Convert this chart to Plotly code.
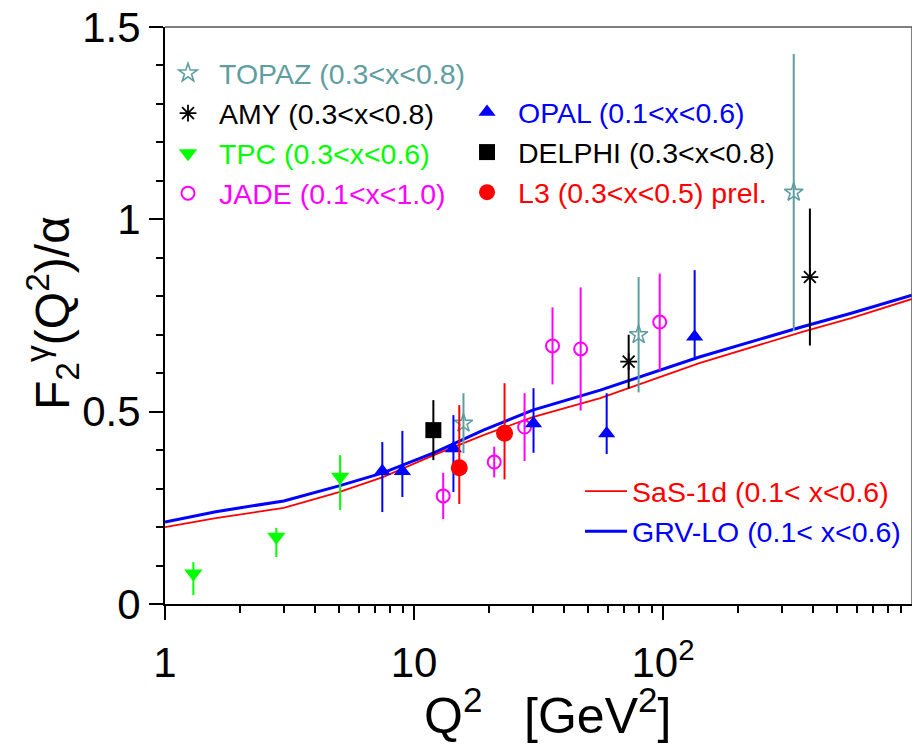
import plotly.graph_objects as go

# ---------------- data ----------------
topaz_q2 = [15.8, 79.8, 335]
topaz_f2 = [0.47, 0.70, 1.07]
topaz_err = [0.078, 0.15, 0.36]

amy_q2 = [72.8, 389]
amy_f2 = [0.63, 0.85]
amy_err = [0.07, 0.178]

tpc_q2 = [1.30, 2.80, 5.05]
tpc_f2 = [0.079, 0.175, 0.331]
tpc_err_up = [0.030, 0.023, 0.056]
tpc_err_dn = [0.056, 0.053, 0.087]

jade_q2 = [13.1, 21.0, 27.8, 36.0, 46.7, 97]
jade_f2 = [0.281, 0.369, 0.46, 0.671, 0.663, 0.733]
jade_err = [0.06, 0.04, 0.088, 0.10, 0.16, 0.126]

opal_q2 = [7.46, 8.98, 14.4, 30.2, 59.4, 134]
opal_f2 = [0.345, 0.345, 0.404, 0.469, 0.443, 0.695]
opal_err_up = [0.076, 0.105, 0.087, 0.092, 0.105, 0.173]
opal_err_dn = [0.106, 0.067, 0.113, 0.076, 0.053, 0.061]

delphi_q2 = [11.96]
delphi_f2 = [0.452]
delphi_err = [0.078]

l3_q2 = [15.2, 23.1]
l3_f2 = [0.354, 0.444]
l3_err_up = [0.163, 0.13]
l3_err_dn = [0.094, 0.12]

curve_q2 = [1, 1.6, 3, 5, 7.5, 12, 19, 30, 56, 140, 360, 570, 1000]
grv_lo = [0.213, 0.240, 0.268, 0.307, 0.341, 0.393, 0.452, 0.504, 0.556, 0.642, 0.720, 0.756, 0.803]
sas_1d = [0.200, 0.223, 0.250, 0.291, 0.330, 0.387, 0.439, 0.486, 0.535, 0.626, 0.707, 0.743, 0.793]

x_tickvals = [1, 10, 100]
x_ticktext = ["1", "10", "10<sup>2</sup>"]
y_tickvals = [0, 0.5, 1, 1.5]
y_ticktext = ["0", "0.5", "1", "1.5"]

# ---------------- styling ----------------
FONT = "Liberation Sans, Arial, Helvetica, sans-serif"
TEAL = "#5f9ea0"
GREEN = "#00ff00"
MAGENTA = "#ff00ff"
BLUE = "#0000ff"
RED = "#ff0000"
BLACK = "#000000"


def lbl(text, color):
    return '<span style="color:%s">%s</span>' % (color, text.replace("<", "&lt;"))


def pts(q2, f2, up, dn, color, symbol, size, name, legend, lw=0):
    return go.Scatter(
        x=q2, y=f2, mode="markers", name=lbl(name, color), legend=legend,
        marker=dict(symbol=symbol, size=size, color=color,
                    line=dict(color=color, width=lw)),
        error_y=dict(type="data", array=up, arrayminus=dn, symmetric=False,
                     color=color, thickness=2, width=0),
    )


fig = go.Figure()

# theory curves
fig.add_trace(go.Scatter(x=curve_q2, y=sas_1d, mode="lines", name=lbl("SaS-1d (0.1< x<0.6)", RED),
                         legend="legend3", line=dict(color=RED, width=1.8)))
fig.add_trace(go.Scatter(x=curve_q2, y=grv_lo, mode="lines", name=lbl("GRV-LO (0.1< x<0.6)", BLUE),
                         legend="legend3", line=dict(color=BLUE, width=3)))

# legend 1 column
fig.add_trace(pts(topaz_q2, topaz_f2, topaz_err, topaz_err, TEAL, "star-open", 14,
                  "TOPAZ (0.3<x<0.8)", "legend", lw=1.6))
fig.add_trace(pts(amy_q2, amy_f2, amy_err, amy_err, BLACK, "asterisk-open", 14,
                  "AMY (0.3<x<0.8)", "legend", lw=1.8))
fig.add_trace(pts(tpc_q2, tpc_f2, tpc_err_up, tpc_err_dn, GREEN, "triangle-down", 16,
                  "TPC (0.3<x<0.6)", "legend"))
fig.add_trace(pts(jade_q2, jade_f2, jade_err, jade_err, MAGENTA, "circle-open", 13,
                  "JADE (0.1<x<1.0)", "legend", lw=2))
# legend 2 column
fig.add_trace(pts(opal_q2, opal_f2, opal_err_up, opal_err_dn, BLUE, "triangle-up", 15,
                  "OPAL (0.1<x<0.6)", "legend2"))
fig.add_trace(pts(delphi_q2, delphi_f2, delphi_err, delphi_err, BLACK, "square", 16,
                  "DELPHI (0.3<x<0.8)", "legend2"))
fig.add_trace(pts(l3_q2, l3_f2, l3_err_up, l3_err_dn, RED, "circle", 17,
                  "L3 (0.3<x<0.5) prel.", "legend2"))

minor_x = [m * d for d in (1, 10, 100) for m in range(2, 10)]
minor_y = [i / 10 for i in range(0, 16) if i % 5 != 0]

fig.update_xaxes(
    type="log", range=[0, 3.0], showgrid=False, zeroline=False, automargin=False,
    showline=True, linecolor=BLACK, linewidth=2,
    ticks="outside", ticklen=14, tickwidth=2, tickcolor=BLACK,
    tickmode="array", tickvals=x_tickvals, ticktext=x_ticktext,
    tickfont=dict(family=FONT, size=42, color=BLACK), ticklabelstandoff=7,
    ticklabeloverflow="allow",
    minor=dict(ticks="outside", ticklen=7, tickwidth=2, tickcolor=BLACK,
               tickmode="array", tickvals=minor_x, showgrid=False),
)
fig.update_yaxes(
    range=[0, 1.5], showgrid=False, zeroline=False, automargin=False,
    showline=True, linecolor=BLACK, linewidth=2,
    ticks="outside", ticklen=14, tickwidth=2, tickcolor=BLACK,
    tickmode="array", tickvals=y_tickvals, ticktext=y_ticktext,
    tickfont=dict(family=FONT, size=42, color=BLACK), ticklabelstandoff=0,
    ticklabeloverflow="allow",
    minor=dict(ticks="outside", ticklen=7, tickwidth=2, tickcolor=BLACK,
               tickmode="array", tickvals=minor_y, showgrid=False),
)

legend_common = dict(font=dict(family=FONT, size=28.5, color=BLACK),
                     bgcolor="rgba(0,0,0,0)", borderwidth=0,
                     itemwidth=52, itemclick=False, itemdoubleclick=False,
                     xanchor="left", yanchor="top", tracegroupgap=0)

frame = dict(color="#555555", width=1.5)

# the page body adds an 8 px offset, so margins are set 8 px smaller on top/left
fig.update_layout(
    width=920, height=745,
    margin=dict(l=157, r=16, t=19, b=149),
    plot_bgcolor="white", paper_bgcolor="white",
    showlegend=True,
    legend=dict(x=-0.0107, y=0.9636, **legend_common),
    legend2=dict(x=0.3896, y=0.896, **legend_common),
    legend3=dict(x=0.5556, y=0.239, **{**legend_common, "itemwidth": 42}),
    shapes=[
        dict(type="line", xref="paper", yref="paper", x0=0, x1=1, y0=1, y1=1, line=frame, layer="above"),
        dict(type="line", xref="paper", yref="paper", x0=1, x1=1, y0=0, y1=1, line=frame, layer="above"),
    ],
    annotations=[
        dict(text="Q<sup>2</sup>\u00a0\u00a0\u00a0[GeV<sup>2</sup>]", xref="paper", yref="paper",
             x=0.512, y=-0.187, xanchor="center", yanchor="middle", showarrow=False,
             font=dict(family=FONT, size=50, color=BLACK)),
        dict(text="F<sub>2</sub><sup>\u03b3</sup>(Q<sup>2</sup>)/\u03b1", xref="paper", yref="paper",
             x=-0.1513, y=0.5043, xanchor="center", yanchor="middle", showarrow=False,
             textangle=-90, font=dict(family=FONT, size=48, color=BLACK)),
    ],
)

fig.write_html("out.html")
